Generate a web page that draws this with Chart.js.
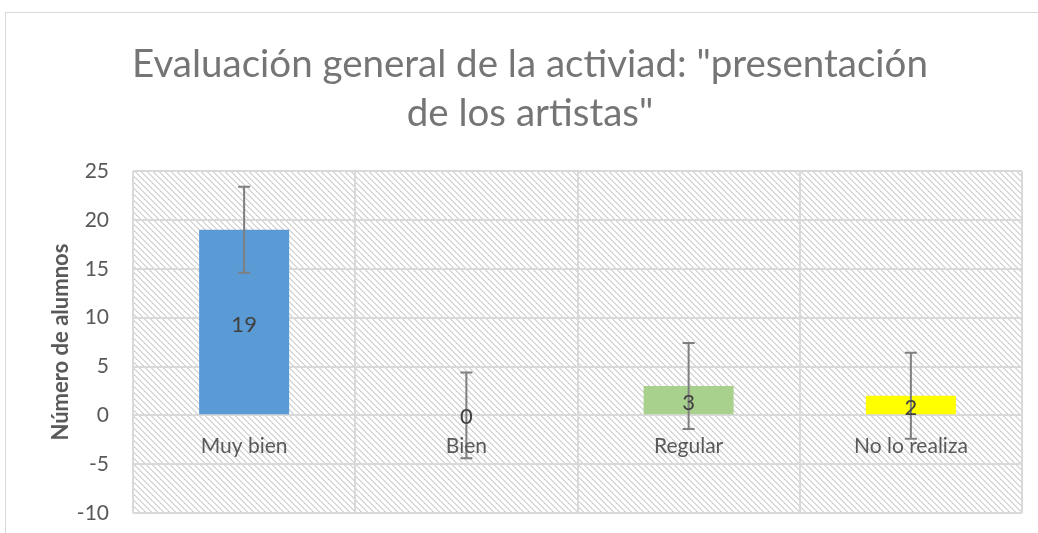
<!DOCTYPE html>
<html>
<head>
<meta charset="utf-8">
<script src="https://cdn.jsdelivr.net/npm/chart.js@4/dist/chart.umd.min.js"></script>
<style>
  html, body { margin: 0; padding: 0; background: #fff; overflow: hidden; }
  #box {
    position: absolute; left: 5px; top: 12px;
    width: 1032px; height: 520px;
    border-top: 1px solid #d9d9d9; border-left: 1px solid #d9d9d9;
  }
</style>
</head>
<body>
<div id="box"><canvas id="chart"></canvas></div>
<script>
const categories = ["Muy bien", "Bien", "Regular", "No lo realiza"];
const alumnos = [19, 0, 3, 2];
const errorMargin = [4.4, 4.4, 4.4, 4.4];
const barColors = ["#5b9bd5", "#5b9bd5", "#a9d18e", "#ffff00"];
const yTicks = [-10, -5, 0, 5, 10, 15, 20, 25];

const FONT = "Lato, 'Open Sans', sans-serif";

// small tile for the hatched plot background
function hatchPattern(ctx) {
  const tile = document.createElement("canvas");
  tile.width = 6;
  tile.height = 6;
  const t = tile.getContext("2d");
  t.fillStyle = "#ffffff";
  t.fillRect(0, 0, 6, 6);
  t.fillStyle = "#d9d9d9";
  for (let i = 0; i < 6; i++) {
    t.fillRect(i, i, 1, 1);
    t.fillRect((i + 1) % 6, i, 1, 1);
  }
  return ctx.createPattern(tile, "repeat");
}

const plotBackground = {
  id: "plotBackground",
  beforeDraw(chart) {
    const { ctx, chartArea: a } = chart;
    ctx.save();
    ctx.fillStyle = hatchPattern(ctx);
    ctx.fillRect(a.left, a.top, a.right - a.left, a.bottom - a.top);
    ctx.restore();
  },
};

const errorBars = {
  id: "errorBars",
  afterDatasetsDraw(chart) {
    const { ctx, scales } = chart;
    ctx.save();
    ctx.strokeStyle = "#7f7f7f";
    ctx.lineWidth = 2;
    alumnos.forEach((v, i) => {
      const x = scales.x.getPixelForValue(i);
      const yTop = scales.y.getPixelForValue(v + errorMargin[i]);
      const yBot = scales.y.getPixelForValue(v - errorMargin[i]);
      ctx.beginPath();
      ctx.moveTo(x, yTop);
      ctx.lineTo(x, yBot);
      ctx.moveTo(x - 6, yTop);
      ctx.lineTo(x + 6, yTop);
      ctx.moveTo(x - 6, yBot);
      ctx.lineTo(x + 6, yBot);
      ctx.stroke();
    });
    ctx.restore();
  },
};

const labelsPlugin = {
  id: "labelsPlugin",
  afterDraw(chart) {
    const { ctx, scales } = chart;
    const y0 = scales.y.getPixelForValue(0);
    ctx.save();
    ctx.textAlign = "center";
    // category names just below the zero line
    ctx.font = "21px " + FONT;
    ctx.fillStyle = "#595959";
    ctx.textBaseline = "middle";
    categories.forEach((c, i) => {
      ctx.fillText(c, scales.x.getPixelForValue(i), y0 + 31);
    });
    // value labels at the middle of each bar
    ctx.font = "22px " + FONT;
    ctx.fillStyle = "#404040";
    alumnos.forEach((v, i) => {
      const yMid = (scales.y.getPixelForValue(v) + y0) / 2;
      ctx.fillText(String(v), scales.x.getPixelForValue(i), yMid + 2);
    });
    ctx.restore();
  },
};

new Chart(document.getElementById("chart"), {
  type: "bar",
  data: {
    labels: categories,
    datasets: [{
      label: "Número de alumnos",
      data: alumnos,
      backgroundColor: barColors,
      borderWidth: 0,
      categoryPercentage: 1,
      barPercentage: 0.405,
    }],
  },
  options: {
    responsive: true,
    maintainAspectRatio: false,
    animation: false,
    layout: { padding: { left: 32, right: 16, top: 0, bottom: 20 } },
    plugins: {
      legend: { display: false },
      tooltip: { enabled: false },
      title: {
        display: true,
        text: ['Evaluación general de la activiad: "presentación', 'de los artistas"'],
        color: "#757575",
        font: { family: FONT, size: 38.5, weight: "normal", lineHeight: 1.25 },
        padding: { top: 28, bottom: 34 },
      },
    },
    scales: {
      x: {
        ticks: { display: false },
        grid: { color: "#d9d9d9", lineWidth: 2, drawTicks: false, offset: true },
        border: { display: false },
        afterFit(scale) { scale.height = 0; },
      },
      y: {
        min: -10,
        max: 25,
        afterBuildTicks(scale) { scale.ticks = yTicks.map(v => ({ value: v })); },
        ticks: {
          color: "#595959",
          font: { family: FONT, size: 21 },
          padding: 24,
        },
        grid: { color: "#d9d9d9", lineWidth: 2, drawTicks: false },
        border: { display: false },
        title: {
          display: true,
          text: "Número de alumnos",
          color: "#595959",
          font: { family: FONT, size: 22, weight: "bold" },
          padding: { top: 10, bottom: 0 },
        },
        afterFit(scale) {
          scale.width = 95;
          scale.paddingTop = 0;
          scale.paddingBottom = 0;
        },
      },
    },
  },
  plugins: [plotBackground, errorBars, labelsPlugin],
});
</script>
</body>
</html>
